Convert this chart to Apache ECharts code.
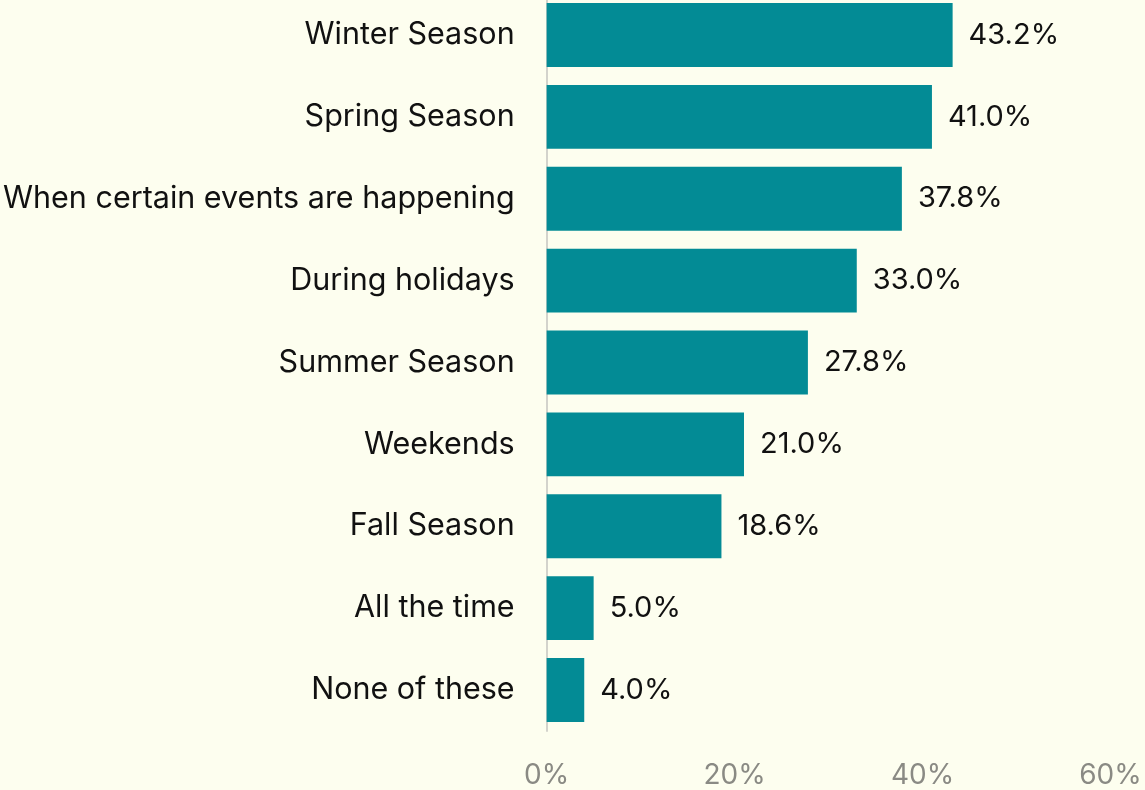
<!DOCTYPE html>
<html>
<head>
<meta charset="utf-8">
<script src="https://cdn.jsdelivr.net/npm/echarts@6/dist/echarts.min.js"></script>
<style>
  html, body { margin: 0; padding: 0; background: #fdfeef; width: 1145px; height: 790px; overflow: hidden; }
  #chart { position: absolute; left: 0; top: -6px; width: 1145px; height: 796px; }
</style>
</head>
<body>
<div id="chart"></div>
<script>
var categories = [
  'Winter Season',
  'Spring Season',
  'When certain events are happening',
  'During holidays',
  'Summer Season',
  'Weekends',
  'Fall Season',
  'All the time',
  'None of these'
];
var values = [43.2, 41.0, 37.8, 33.0, 27.8, 21.0, 18.6, 5.0, 4.0];
var tickValues = [0, 20, 40, 60];

var chart = echarts.init(document.getElementById('chart'));

var fontFamily = 'Inter, "Noto Sans", sans-serif';

// grid runs past the top edge a little, so the div is shifted up
var option = {
  backgroundColor: '#fdfeef',
  animation: false,
  grid: {
    left: 544.5,
    right: 34.5,
    top: 0,
    bottom: 57.5,
    containLabel: false
  },
  xAxis: {
    type: 'value',
    min: 0,
    max: 60,
    interval: 20,
    splitLine: { show: false },
    axisLine: { show: false },
    axisTick: { show: false },
    axisLabel: {
      color: '#8a8a84',
      fontSize: 28,
      fontFamily: fontFamily,
      margin: 31,
      formatter: function (v) { return tickValues.indexOf(v) >= 0 ? v + '%' : ''; }
    }
  },
  yAxis: {
    type: 'category',
    data: categories,
    inverse: true,
    axisLine: { show: true, lineStyle: { color: '#d3d3cc', width: 2 } },
    axisTick: { show: false },
    axisLabel: {
      color: '#111111',
      fontSize: 30.5,
      fontFamily: fontFamily,
      margin: 32
    }
  },
  series: [{
    type: 'bar',
    data: values,
    barCategoryGap: '22%',
    itemStyle: { color: '#038b95' },
    label: {
      show: true,
      position: 'right',
      distance: 16,
      color: '#111111',
      fontSize: 29,
      fontFamily: fontFamily,
      formatter: function (p) { return p.value.toFixed(1) + '%'; }
    }
  }]
};

chart.setOption(option);
</script>
</body>
</html>
